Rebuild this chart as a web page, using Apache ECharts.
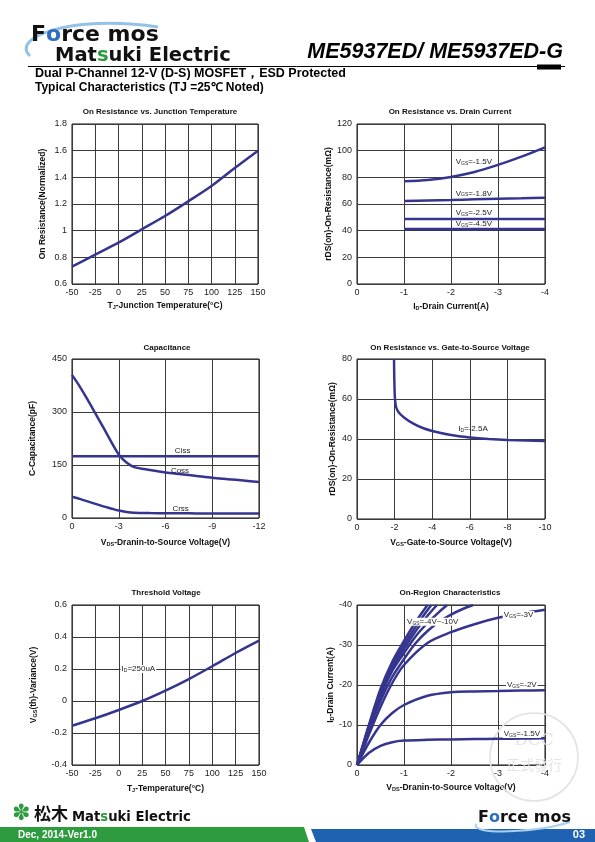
<!DOCTYPE html>
<html><head><meta charset="utf-8">
<script src="https://cdn.jsdelivr.net/npm/echarts/dist/echarts.min.js"></script>
<style>html,body{margin:0;padding:0;background:#fff}#c{width:595px;height:842px}</style>
</head><body><div id="c"></div>
<script>
// ---------- data ----------
// Chart 1: On resistance vs junction temperature
const tempX = [-50, -25, 0, 25, 50, 75, 100, 125, 150];
const rOnNorm = [0.73, 0.82, 0.91, 1.01, 1.11, 1.22, 1.335, 1.47, 1.6];
// Chart 2: On resistance vs drain current
const idX = [-1, -1.5, -2, -2.5, -3, -3.5, -4];
const rVgs15 = [77, 78, 80.3, 84, 89.3, 95.5, 102.5];
const rVgs18 = [62.2, 62.6, 63, 63.5, 64, 64.3, 64.7];
const rVgs25 = [48.7, 48.7, 48.7, 48.7, 48.7, 48.7, 48.7];
const rVgs45 = [41.2, 41.2, 41.2, 41.2, 41.2, 41.2, 41.2];
// Chart 3: Capacitance
const capX = [0, -0.5, -1, -1.5, -2, -2.5, -3, -3.5, -4, -5, -6, -7, -8, -9, -10, -11, -12];
const coss = [405, 372, 335, 296, 257, 217, 180, 157, 144, 136, 129, 124, 119, 114, 110, 106, 102];
const crss = [60, 54, 47, 40, 33, 27, 21, 17, 15, 14, 13.5, 13.3, 13, 13, 13, 13, 13];
const ciss = [175, 175, 175, 175, 175, 175, 175, 175, 175, 175, 175, 175, 175, 175, 175, 175, 175];
// Chart 4: On resistance vs gate-to-source voltage
const vgsX = [-1.97, -1.98, -2.0, -2.03, -2.08, -2.2, -2.5, -3, -3.5, -4, -5, -6, -7, -8, -9, -10];
const rVsVgs = [80, 72, 64, 59, 56, 53.5, 50.8, 47.7, 45.5, 44, 42, 40.8, 40, 39.5, 39.2, 39];
// Chart 5: Threshold voltage
const vthVar = [-0.155, -0.108, -0.056, 0, 0.065, 0.137, 0.217, 0.3, 0.377];
// Chart 6: On-region characteristics
const vdsX = [0, -0.25, -0.5, -0.75, -1, -1.5, -2, -2.5, -3, -3.5, -4];
const idVgs15 = [0, -3, -4.8, -5.7, -6.1, -6.3, -6.4, -6.5, -6.55, -6.6, -6.7];
const idVgs2 = [0, -5.5, -10, -13, -15, -17.3, -18.2, -18.4, -18.5, -18.6, -18.7];
const idVgs3 = [0, -7.5, -14.5, -20.5, -25, -30.5, -33.2, -35.2, -36.8, -37.9, -38.8];
const vdsX4 = [0, -0.25, -0.5, -0.75, -1, -1.25, -1.5, -1.75, -2, -2.25, -2.47];
const idVgs4 = [0, -8.5, -16, -22, -26.5, -30.5, -33.5, -35.8, -37.6, -39, -40];
const vdsX45 = [0, -0.25, -0.5, -0.75, -1, -1.25, -1.5, -1.75, -1.92];
const idVgs45 = [0, -9, -17, -23.5, -28, -32.2, -35.5, -38.3, -40];
const vdsX6 = [0, -0.25, -0.5, -0.75, -1, -1.25, -1.5, -1.7];
const idVgs6 = [0, -9.3, -17.8, -24.3, -29, -33.5, -37.3, -40];
const vdsX8 = [0, -0.25, -0.5, -0.75, -1, -1.25, -1.58];
const idVgs8 = [0, -9.6, -18.4, -25, -30, -34.6, -40];
const vdsX10 = [0, -0.25, -0.5, -0.75, -1, -1.25, -1.5];
const idVgs10 = [0, -9.9, -19, -25.8, -31, -35.8, -40];

// ---------- styling ----------
const FONT = 'Liberation Sans, Arial, sans-serif';
const LINE = '#35358f';
const GRIDC = '#3a3a3a';
const pair = (xs, ys) => xs.map((x, i) => [x, ys[i]]);

const grids = [
  {left: 72, top: 124, width: 186, height: 160},
  {left: 357, top: 124, width: 188, height: 160},
  {left: 72, top: 359, width: 187, height: 159},
  {left: 357, top: 359, width: 188, height: 160},
  {left: 72, top: 605, width: 187, height: 160},
  {left: 357, top: 605, width: 188, height: 160}
].map(g => Object.assign({show: true, borderColor: '#111', borderWidth: 1, containLabel: false}, g));

const subRich = {s: {fontSize: 5.5, fontWeight: 'bold', fontFamily: FONT, color: '#111', verticalAlign: 'bottom', padding: [3, 0, 0, 0]}};

function xa(gi, min, max, interval, inverse, name, gap) {
  return {type: 'value', gridIndex: gi, min, max, interval, inverse,
    name, nameLocation: 'middle', nameGap: gap,
    nameTextStyle: {fontFamily: FONT, fontSize: 8.5, fontWeight: 'bold', color: '#111', rich: subRich},
    axisLine: {show: false}, axisTick: {show: false},
    axisLabel: {fontFamily: FONT, fontSize: 9, color: '#222', margin: 4},
    splitLine: {show: true, lineStyle: {color: GRIDC, width: 1}}};
}
function ya(gi, min, max, interval, inverse, name, gap) {
  return {type: 'value', gridIndex: gi, min, max, interval, inverse,
    name, nameLocation: 'middle', nameGap: gap,
    nameTextStyle: {fontFamily: FONT, fontSize: 8.5, fontWeight: 'bold', color: '#111', rich: subRich},
    axisLine: {show: false}, axisTick: {show: false},
    axisLabel: {fontFamily: FONT, fontSize: 9, color: '#222', margin: 5},
    splitLine: {show: true, lineStyle: {color: GRIDC, width: 1}}};
}
function ls(gi, data, smooth) {
  return {type: 'line', xAxisIndex: gi, yAxisIndex: gi, data, symbol: 'none', showSymbol: false,
    smooth: smooth === undefined ? 0.3 : smooth, lineStyle: {color: LINE, width: 2.5}, silent: true, z: 3};
}

const xAxes = [
  xa(0, -50, 150, 25, false, 'T{s|J}-Junction Temperature(°C)', 17),
  xa(1, -4, 0, 1, true, 'I{s|D}-Drain Current(A)', 18),
  xa(2, -12, 0, 3, true, 'V{s|DS}-Dranin-to-Source Voltage(V)', 20),
  xa(3, -10, 0, 2, true, 'V{s|GS}-Gate-to-Source Voltage(V)', 19),
  xa(4, -50, 150, 25, false, 'T{s|J}-Temperature(°C)', 19),
  xa(5, -4, 0, 1, true, 'V{s|DS}-Dranin-to-Source Voltage(V)', 18)
];
const yAxes = [
  ya(0, 0.6, 1.8, 0.2, false, 'On Resistance(Normalized)', 25),
  ya(1, 0, 120, 20, false, 'rDS(on)-On-Resistance(mΩ)', 19),
  ya(2, 0, 450, 150, false, 'C-Capacitance(pF)', 35),
  ya(3, 0, 80, 20, false, 'rDS(on)-On-Resistance(mΩ)', 20),
  ya(4, -0.4, 0.6, 0.2, false, 'V{s|GS}(th)-Variance(V)', 34),
  ya(5, -40, 0, 10, true, 'I{s|D}-Drain Current(A)', 20)
];
yAxes[4].axisLabel.formatter = v => (Math.round(v * 10) / 10).toString();
yAxes[0].axisLabel.formatter = v => (Math.round(v * 10) / 10).toString();

const series = [
  ls(0, pair(tempX, rOnNorm)),
  ls(1, pair(idX, rVgs15)), ls(1, pair(idX, rVgs18)), ls(1, pair(idX, rVgs25)), ls(1, pair(idX, rVgs45)),
  ls(2, pair(capX, coss)), ls(2, pair(capX, crss)), ls(2, pair(capX, ciss)),
  ls(3, pair(vgsX, rVsVgs), 0.15),
  ls(4, pair(tempX, vthVar)),
  ls(5, pair(vdsX, idVgs15)), ls(5, pair(vdsX, idVgs2)), ls(5, pair(vdsX, idVgs3)),
  ls(5, pair(vdsX4, idVgs4)), ls(5, pair(vdsX45, idVgs45)), ls(5, pair(vdsX6, idVgs6)),
  ls(5, pair(vdsX8, idVgs8)), ls(5, pair(vdsX10, idVgs10))
];

function txt(x, y, text, opt) {
  return {type: 'text', x, y, z: 100, silent: true,
    style: Object.assign({text, fontFamily: FONT, fontSize: 10, fill: '#000', align: 'left', verticalAlign: 'middle'}, opt || {})};
}
const titleStyle = {fontSize: 8, fontWeight: 'bold', align: 'center', fill: '#111'};

const headerGraphics = [
  {type: 'bezierCurve', z: 50, silent: true, shape: {x1: 30, y1: 56, cpx1: 10, cpy1: 38, cpx2: 70, cpy2: 14, x2: 158, y2: 27},
    style: {stroke: '#93c2e8', lineWidth: 3, fill: null}},
  txt(31, 35, 'F{o|o}rce mos', {fontFamily: 'DejaVu Sans', fontWeight: 'bold', fontSize: 22, fill: '#111',
    rich: {o: {fill: '#2f6fc0', fontFamily: 'DejaVu Sans', fontWeight: 'bold', fontSize: 22}}}),
  txt(55, 56, 'Mat{g|s}uki Electric', {fontFamily: 'DejaVu Sans', fontWeight: 'bold', fontSize: 19.5, fill: '#111',
    rich: {g: {fill: '#2b9a3c', fontFamily: 'DejaVu Sans', fontWeight: 'bold', fontSize: 19.5}}}),
  txt(563, 52, 'ME5937ED/ ME5937ED-G', {fontWeight: 'bold', fontStyle: 'italic', fontSize: 21.5, align: 'right'}),
  {type: 'line', z: 50, silent: true, shape: {x1: 28, y1: 66.5, x2: 565, y2: 66.5}, style: {stroke: '#000', lineWidth: 1}},
  {type: 'rect', z: 50, silent: true, shape: {x: 537, y: 64.5, width: 24, height: 5}, style: {fill: '#000'}},
  txt(35, 73.5, 'Dual P-Channel 12-V (D-S) MOSFET，ESD Protected', {fontWeight: 'bold', fontSize: 12.5}),
  txt(35, 88, 'Typical Characteristics (TJ =25℃ Noted)', {fontWeight: 'bold', fontSize: 12})
];

const footerGraphics = [
  {type: 'polygon', z: 50, silent: true, shape: {points: [[0, 827], [304, 827], [309, 842], [0, 842]]}, style: {fill: '#2e9b3e'}},
  {type: 'polygon', z: 50, silent: true, shape: {points: [[311, 829], [595, 829], [595, 842], [316, 842]]}, style: {fill: '#1f62b2'}},
  txt(12, 814, '✽', {fontFamily: 'DejaVu Sans', fontSize: 22, fill: '#2e9b3e'}),
  txt(34, 814, '松木', {fontFamily: 'Noto Sans CJK JP', fontWeight: 'bold', fontSize: 17, fill: '#111'}),
  txt(72, 818, 'Mat{g|s}uki Electric', {fontFamily: 'DejaVu Sans', fontWeight: 'bold', fontSize: 13.2, fill: '#111',
    rich: {g: {fill: '#2b9a3c', fontFamily: 'DejaVu Sans', fontWeight: 'bold', fontSize: 13.2}}}),
  txt(18, 835, 'Dec, 2014-Ver1.0', {fontWeight: 'bold', fontSize: 10, fill: '#fff'}),
  {type: 'bezierCurve', z: 50, silent: true, shape: {x1: 476, y1: 824, cpx1: 470, cpy1: 836, cpx2: 540, cpy2: 832, x2: 570, y2: 822},
    style: {stroke: '#a9d0ee', lineWidth: 2, fill: null}},
  txt(478, 818, 'F{o|o}rce mos', {fontFamily: 'DejaVu Sans', fontWeight: 'bold', fontSize: 16, fill: '#111',
    rich: {o: {fill: '#2f6fc0', fontFamily: 'DejaVu Sans', fontWeight: 'bold', fontSize: 16}}}),
  txt(585, 835, '03', {fontWeight: 'bold', fontSize: 11, fill: '#fff', align: 'right'})
];

const titleGraphics = [
  txt(160, 112, 'On Resistance vs. Junction Temperature', titleStyle),
  txt(450, 112, 'On Resistance vs. Drain Current', titleStyle),
  txt(167, 348, 'Capacitance', titleStyle),
  txt(450, 348, 'On Resistance vs. Gate-to-Source Voltage', titleStyle),
  txt(166, 593, 'Threshold Voltage', titleStyle),
  txt(450, 593, 'On-Region Characteristics', titleStyle)
];

const watermark = [
  {type: 'circle', z: 1, silent: true, shape: {cx: 534, cy: 757, r: 44}, style: {stroke: '#e2e2e2', lineWidth: 1.5, fill: null}},
  {type: 'text', z: 1, silent: true, x: 534, y: 741, style: {text: 'DCC', fontFamily: 'DejaVu Serif', fontSize: 17, fill: '#e4e4e4', align: 'center', verticalAlign: 'middle'}},
  {type: 'text', z: 1, silent: true, x: 534, y: 765, style: {text: '正式發行', fontFamily: 'Noto Sans CJK TC', fontSize: 14, fill: '#e4e4e4', align: 'center', verticalAlign: 'middle'}}
];

const chart = echarts.init(document.getElementById('c'), null, {renderer: 'canvas'});
chart.setOption({
  animation: false,
  backgroundColor: '#fff',
  grid: grids, xAxis: xAxes, yAxis: yAxes, series,
  graphic: headerGraphics.concat(footerGraphics, titleGraphics, watermark)
});

// annotation labels anchored to data coordinates
const vsub = (pre, sub, post) => pre + '{s|' + sub + '}' + post;
const annotRich = {s: {fontSize: 5, fontFamily: FONT, fill: '#222', verticalAlign: 'bottom', padding: [3, 0, 0, 0]}};
const annotations = [
  {g: 1, at: [-2.1, 91.7], t: vsub('V', 'GS', '=-1.5V'), a: 'left'},
  {g: 1, at: [-2.1, 68], t: vsub('V', 'GS', '=-1.8V'), a: 'left'},
  {g: 1, at: [-2.1, 53.3], t: vsub('V', 'GS', '=-2.5V'), a: 'left'},
  {g: 1, at: [-2.1, 45], t: vsub('V', 'GS', '=-4.5V'), a: 'left'},
  {g: 2, at: [-7.1, 190], t: 'Ciss', a: 'center'},
  {g: 2, at: [-6.93, 133], t: 'Coss', a: 'center'},
  {g: 2, at: [-6.97, 25.5], t: 'Crss', a: 'center'},
  {g: 3, at: [-6.17, 45], t: vsub('I', 'D', '=-2.5A'), a: 'center'},
  {g: 4, at: [21, 0.2], t: vsub('I', 'D', '=250uA'), a: 'center', bg: true},
  {g: 5, at: [-1.61, -35.8], t: vsub('V', 'GS', '=-4V~-10V'), a: 'center', bg: true},
  {g: 5, at: [-3.1, -37.5], t: vsub('V', 'GS', '=-3V'), a: 'left', bg: true},
  {g: 5, at: [-3.17, -20], t: vsub('V', 'GS', '=-2V'), a: 'left', bg: true},
  {g: 5, at: [-3.1, -7.75], t: vsub('V', 'GS', '=-1.5V'), a: 'left', bg: true}
];
const annotGraphics = annotations.map(a => {
  const p = chart.convertToPixel({gridIndex: a.g}, a.at);
  const st = {text: a.t, fontFamily: FONT, fontSize: 8, fill: '#222', align: a.a, verticalAlign: 'middle', rich: annotRich};
  if (a.bg) { st.backgroundColor = '#fff'; st.padding = [0, 1, 0, 1]; }
  return {type: 'text', x: p[0], y: p[1], z: 100, silent: true, style: st};
});
chart.setOption({graphic: headerGraphics.concat(footerGraphics, titleGraphics, watermark, annotGraphics)});
</script></body></html>
